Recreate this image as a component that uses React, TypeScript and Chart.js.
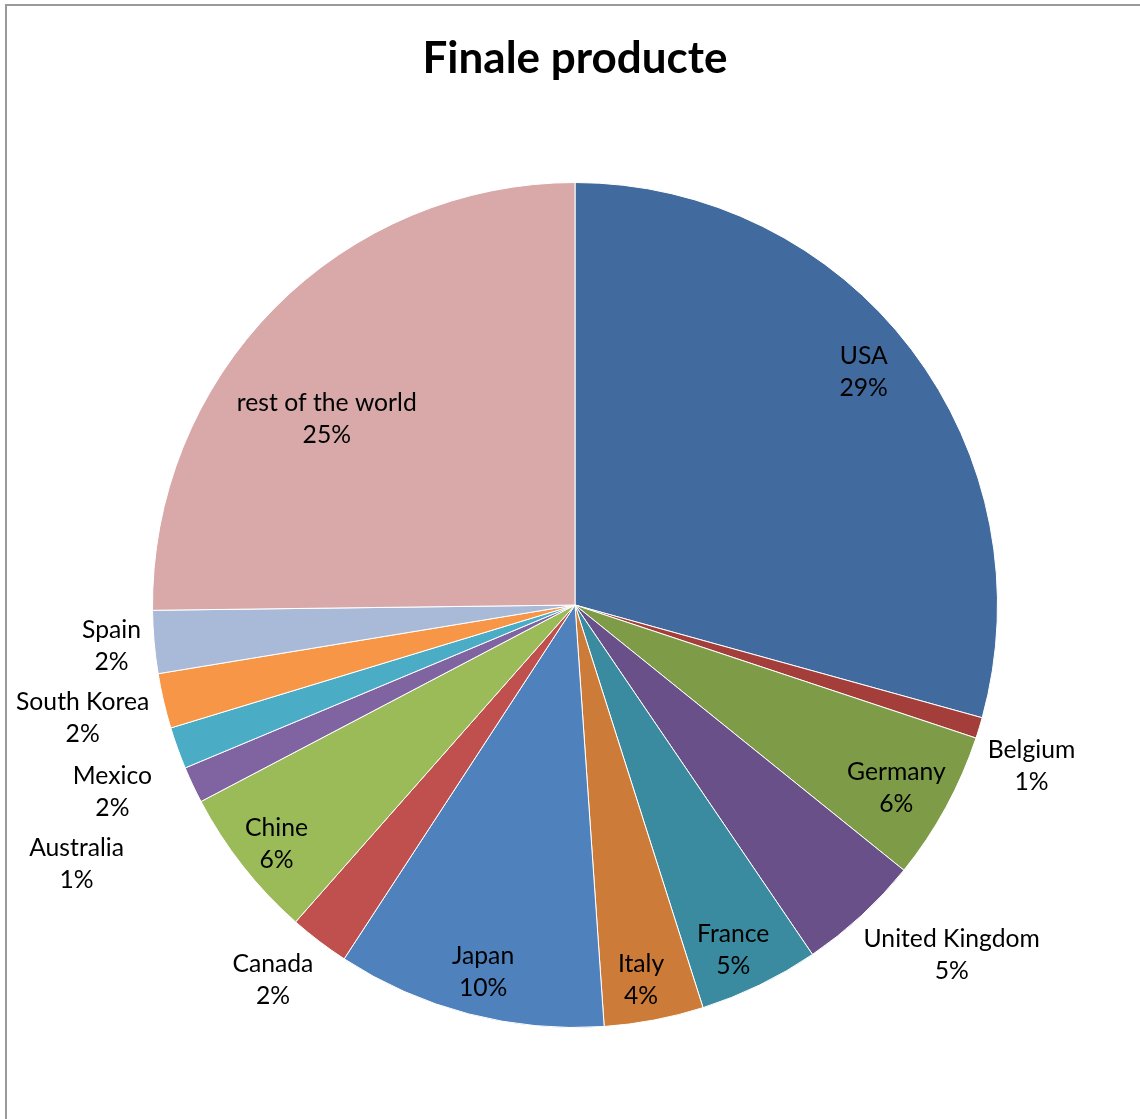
import React, { useEffect, useRef } from "react";
import { Chart, registerables } from "chart.js";

Chart.register(...registerables);

const titleText = "Finale producte";
const categories = [
  "USA",
  "Belgium",
  "Germany",
  "United Kingdom",
  "France",
  "Italy",
  "Japan",
  "Canada",
  "Chine",
  "Australia",
  "Mexico",
  "South Korea",
  "Spain",
  "rest of the world",
];
const shares = [29.3, 0.8, 5.7, 4.7, 4.6, 3.8, 10.3, 2.3, 5.8, 1.4, 1.6, 2.1, 2.4, 25.2];
const sliceColors = [
  "#416B9E",
  "#A33E3B",
  "#7E9B48",
  "#6A5088",
  "#3A8BA0",
  "#CC7B38",
  "#4F81BD",
  "#C0504D",
  "#9BBB59",
  "#8064A2",
  "#4BACC6",
  "#F79646",
  "#A9B9D8",
  "#D9A9A9",
];

// label placement (relative to the slice geometry): radius factor and angle shift (deg)
const labelRadius = [0.88, 1.145, 0.874, 1.216, 0.897, 0.9, 0.894, 1.138, 0.904, 1.328, 1.18, 1.195, 1.101, 0.735];
const labelAngleShift = [-1.8, 2.4, 0.9, -4.5, 1.25, 0.8, -0.5, 1.66, -0.44, -2.14, -2.1, 0.34, 0.1, -7.7];

const FONT = "Lato, 'Open Sans', sans-serif";

const labelPlugin = {
  id: "sliceLabels",
  afterDatasetsDraw(chart: any) {
    const meta = chart.getDatasetMeta(0);
    const ctx = chart.ctx;
    const total = shares.reduce((a, b) => a + b, 0);
    ctx.save();
    ctx.font = `24.7px ${FONT}`;
    ctx.fillStyle = "#000";
    ctx.textAlign = "center";
    ctx.textBaseline = "middle";
    meta.data.forEach((arc: any, i: number) => {
      const { x, y, startAngle, endAngle, outerRadius } = arc.getProps(
        ["x", "y", "startAngle", "endAngle", "outerRadius"],
        true
      );
      const mid = (startAngle + endAngle) / 2 + (labelAngleShift[i] * Math.PI) / 180;
      const d = outerRadius * labelRadius[i];
      const cx = x + Math.cos(mid) * d;
      const cy = y + Math.sin(mid) * d + 1;
      const pct = Math.round((shares[i] / total) * 100) + "%";
      ctx.fillText(categories[i], cx, cy - 16);
      ctx.fillText(pct, cx, cy + 16);
    });
    ctx.restore();
  },
};

export default function App() {
  const canvasRef = useRef<HTMLCanvasElement | null>(null);

  useEffect(() => {
    document.body.style.margin = "0";
    const canvas = canvasRef.current;
    if (!canvas) return;
    const chart = new Chart(canvas, {
      type: "pie",
      data: {
        labels: categories,
        datasets: [
          {
            data: shares,
            backgroundColor: sliceColors,
            borderColor: "#ffffff",
            borderWidth: 1,
            hoverOffset: 0,
          },
        ],
      },
      options: {
        responsive: false,
        animation: false,
        layout: { padding: { left: 152, right: 142, top: 0, bottom: 91 } },
        plugins: {
          legend: { display: false },
          tooltip: { enabled: false },
          title: {
            display: true,
            text: titleText,
            color: "#000",
            font: { family: FONT, size: 44, weight: "bold", lineHeight: 1.2 },
            padding: { top: 32, bottom: 97.2 },
          },
        },
      },
      plugins: [labelPlugin],
    });
    return () => chart.destroy();
  }, []);

  return (
    <div style={{ position: "relative", width: 1140, height: 1119, overflow: "hidden", background: "#fff" }}>
      <div
        style={{
          position: "absolute",
          left: 5,
          top: 4,
          width: 1400,
          height: 1400,
          borderLeft: "2px solid #9a9a9a",
          borderTop: "2px solid #9a9a9a",
        }}
      />
      <canvas ref={canvasRef} width={1140} height={1119} style={{ position: "absolute", left: 0, top: 0 }} />
    </div>
  );
}
